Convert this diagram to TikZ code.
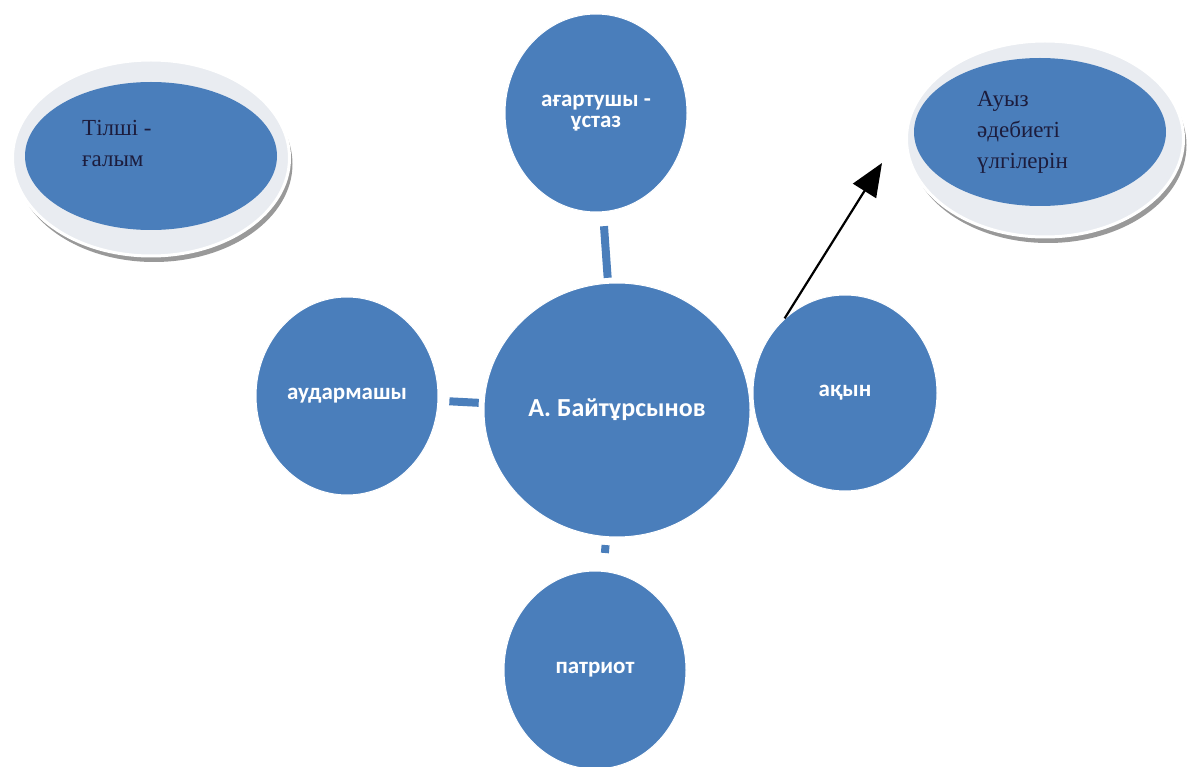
\documentclass[tikz,border=0pt]{standalone}
\usepackage{fontspec}
\setmainfont{Liberation Serif}
\setsansfont{Carlito}
\usetikzlibrary{arrows.meta,shapes.geometric,shadows}
\definecolor{discblue}{HTML}{4A7EBB}
\definecolor{rimgray}{HTML}{E9ECF1}
\definecolor{inknavy}{HTML}{1C1C3C}
\tikzset{%
  >={Triangle[width=27pt,length=33pt]},
  % Specifications for style of nodes:
        disc/.style = {ellipse, fill=discblue, draw=white, line width=1pt,
                       inner sep=0pt, text=white, align=center},
         hub/.style = {disc, minimum width=266pt, minimum height=254pt,
                       font=\sffamily\bfseries\fontsize{26}{30}\selectfont},
   satellite/.style = {disc, minimum width=182pt, minimum height=198pt,
                       font=\sffamily\bfseries\fontsize{23}{21}\selectfont},
         rim/.style = {ellipse, fill=rimgray, draw=white, line width=3pt,
                       inner sep=0pt, minimum width=277pt, minimum height=196pt,
                       drop shadow={shadow xshift=3pt, shadow yshift=-6pt,
                                    fill=black!50, opacity=.8}},
       plate/.style = {ellipse, fill=discblue, inner sep=0pt,
                       minimum width=252pt, minimum height=148pt},
  platelabel/.style = {anchor=north west, align=left, inner sep=0pt,
                       text=inknavy, font=\fontsize{23}{31}\selectfont},
         bar/.style = {discblue, line width=8pt},
}

\begin{document}
\begin{tikzpicture}[x=1pt, y=-1pt]
  \useasboundingbox (0,0) rectangle (1187,767);
  \clip (0,0) rectangle (1187,767);

  % Specification of the two framed ovals at the top
  \node (lingvistrim)  [rim]   at (151,158)  {};
  \node (lingvist)     [plate] at (151,156)  {};
  \node (lingvisttext) [platelabel] at ([shift={(-69,-36)}]lingvist.center)
  {Тілші -\\ғалым};
  \node (auyzrim)      [rim]   at (1045,139) {};
  \node (auyz)         [plate] at (1040,132) {};
  \node (auyztext)     [platelabel] at ([shift={(-63,-41)}]auyz.center)
  {Ауыз\\әдебиеті\\үлгілерін};

  % Specification of the circles round the name
  \node (baitursynov) [hub]       at (617,410) {А. Байтұрсынов};
  \node (agartushy)   [satellite] at (596,113) {ағартушы -\\ұстаз};
  \node (audarmashy)  [satellite] at (347,396) {аудармашы};
  \node (akyn)        [satellite, minimum width=184pt, minimum height=196pt]
                                  at (845,393) {ақын};
  \node (patriot)     [satellite] at (595,670) {патриот};
  \coordinate (tip) at (882,163);

  % Specification of lines between nodes specified above
  \draw[bar, shorten <=5pt, shorten >=14pt] (baitursynov) -- (agartushy);
  \draw[bar, shorten <=5pt, shorten >=11pt] (baitursynov) -- (audarmashy);
  \draw[bar, shorten <=8pt, shorten >=18pt] (baitursynov) -- (patriot);
  \draw[->, line width=2.2pt] (akyn.129) -- (tip);
\end{tikzpicture}
\end{document}
